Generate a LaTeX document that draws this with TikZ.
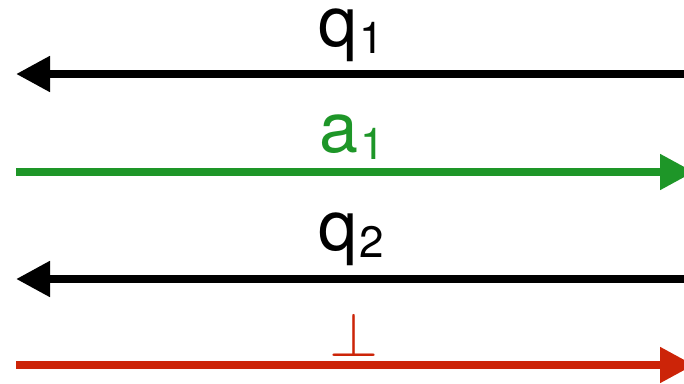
\documentclass[tikz,border=0pt]{standalone}
\usepackage{fontspec}
\setmainfont{TeX Gyre Heros}
\usepackage{graphicx}
\usetikzlibrary{arrows.meta}
\usepackage{xcolor}

\definecolor{ansgreen}{RGB}{30,150,40}
\definecolor{botred}{RGB}{204,36,8}
\newcommand{\lowidx}[1]{\kern2pt\lower7pt\hbox{\fontsize{44}{44}\selectfont #1}}

\begin{document}
\begin{tikzpicture}[
  x=1pt, y=1pt,
  msg/.style={line width=8pt, -{Triangle[length=34pt, width=34pt]}},
  lbl/.style={anchor=base, inner sep=0pt, font=\fontsize{70}{70}\selectfont},
]
\clip (0,0) rectangle (684,383);

% end points of the four messages
\coordinate (q1r) at (690,309);
\coordinate (q1l) at (16,309);
\coordinate (a1l) at (16,211);
\coordinate (a1r) at (694,211);
\coordinate (q2r) at (690,104);
\coordinate (q2l) at (16,104);
\coordinate (botl) at (16,18);
\coordinate (botr) at (694,18);

% labels
\node[lbl] (q1) at (351,336) {q\lowidx{1}};
\node[lbl, text=ansgreen] (a1) at (352,230) {a\lowidx{1}};
\node[lbl] (q2) at (351,133) {q\lowidx{2}};
\node[lbl, text=botred, font=\fontsize{10}{10}\selectfont] (bot) at (354,27) {\scalebox{6.3}{$\bot$}};

\draw[msg] (q1r) -- (q1l);
\draw[msg, ansgreen] (a1l) -- (a1r);
\draw[msg] (q2r) -- (q2l);
\draw[msg, botred] (botl) -- (botr);
\end{tikzpicture}
\end{document}
